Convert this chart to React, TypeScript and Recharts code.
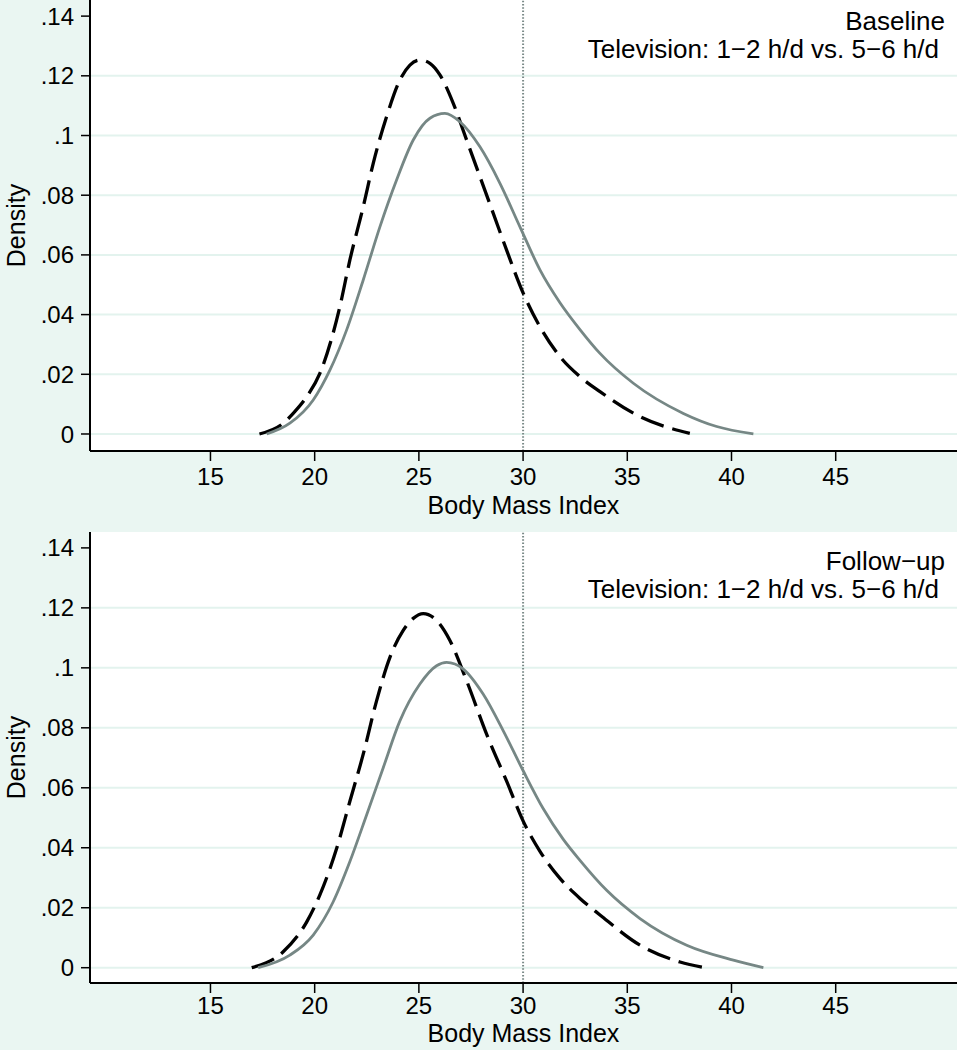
import { LineChart, Line, XAxis, YAxis, CartesianGrid, ReferenceLine } from "recharts";

const FONT = '"Liberation Sans", Arial, Helvetica, sans-serif';
const MINT = "#EAF6F2";
const GRID = "#E3F3EE";
const GREY = "#768785";

const bmiTicks = [15, 20, 25, 30, 35, 40, 45];
const densityTicks = [0, 0.02, 0.04, 0.06, 0.08, 0.1, 0.12, 0.14];
const gridValues = [0, 0.02, 0.04, 0.06, 0.08, 0.1, 0.12];
const obesityCutoff = 30;
const subtitle = "Television: 1\u22122 h/d vs. 5\u22126 h/d";

// baseline, 1-2 h/d (black dashed)
const baselineLowTv = [
  { bmi: 17.35, density: 0.0 },
  { bmi: 18.49, density: 0.0036 },
  { bmi: 18.97, density: 0.0069 },
  { bmi: 19.62, density: 0.0125 },
  { bmi: 20.25, density: 0.0203 },
  { bmi: 21.21, density: 0.0427 },
  { bmi: 21.69, density: 0.0583 },
  { bmi: 22.33, density: 0.0761 },
  { bmi: 22.81, density: 0.0907 },
  { bmi: 23.45, density: 0.1063 },
  { bmi: 24.09, density: 0.1186 },
  { bmi: 24.57, density: 0.1236 },
  { bmi: 25.05, density: 0.1253 },
  { bmi: 25.53, density: 0.1242 },
  { bmi: 26.01, density: 0.1203 },
  { bmi: 26.65, density: 0.1108 },
  { bmi: 27.29, density: 0.0985 },
  { bmi: 27.93, density: 0.0862 },
  { bmi: 28.57, density: 0.0739 },
  { bmi: 29.21, density: 0.0616 },
  { bmi: 30.01, density: 0.0471 },
  { bmi: 30.81, density: 0.0359 },
  { bmi: 31.77, density: 0.0259 },
  { bmi: 32.73, density: 0.0192 },
  { bmi: 33.69, density: 0.0142 },
  { bmi: 35.61, density: 0.0058 },
  { bmi: 38.0, density: 0.0002 },
];

// baseline, 5-6 h/d (grey solid)
const baselineHighTv = [
  { bmi: 17.7, density: 0.0 },
  { bmi: 18.81, density: 0.0036 },
  { bmi: 19.93, density: 0.0114 },
  { bmi: 20.73, density: 0.0214 },
  { bmi: 21.53, density: 0.0348 },
  { bmi: 22.33, density: 0.0516 },
  { bmi: 23.13, density: 0.0694 },
  { bmi: 23.93, density: 0.0851 },
  { bmi: 24.73, density: 0.0985 },
  { bmi: 25.53, density: 0.1058 },
  { bmi: 26.25, density: 0.1074 },
  { bmi: 26.97, density: 0.1046 },
  { bmi: 27.93, density: 0.0962 },
  { bmi: 28.89, density: 0.084 },
  { bmi: 29.85, density: 0.0694 },
  { bmi: 30.81, density: 0.055 },
  { bmi: 31.77, density: 0.044 },
  { bmi: 32.73, density: 0.035 },
  { bmi: 33.69, density: 0.027 },
  { bmi: 35.29, density: 0.017 },
  { bmi: 37.69, density: 0.0069 },
  { bmi: 39.29, density: 0.0025 },
  { bmi: 41.05, density: 0.0 },
];

// follow-up, 1-2 h/d (black dashed)
const followupLowTv = [
  { bmi: 16.98, density: 0.0 },
  { bmi: 18.49, density: 0.0053 },
  { bmi: 19.62, density: 0.0153 },
  { bmi: 20.25, density: 0.0243 },
  { bmi: 21.06, density: 0.0399 },
  { bmi: 21.69, density: 0.0555 },
  { bmi: 22.33, density: 0.0712 },
  { bmi: 22.97, density: 0.089 },
  { bmi: 23.61, density: 0.1035 },
  { bmi: 24.25, density: 0.1125 },
  { bmi: 24.73, density: 0.1165 },
  { bmi: 25.21, density: 0.1181 },
  { bmi: 25.85, density: 0.1158 },
  { bmi: 26.49, density: 0.1091 },
  { bmi: 27.29, density: 0.0957 },
  { bmi: 28.25, density: 0.0779 },
  { bmi: 29.21, density: 0.0622 },
  { bmi: 30.01, density: 0.0488 },
  { bmi: 30.81, density: 0.0388 },
  { bmi: 31.77, density: 0.0298 },
  { bmi: 32.73, density: 0.0231 },
  { bmi: 33.69, density: 0.0176 },
  { bmi: 35.61, density: 0.0075 },
  { bmi: 37.53, density: 0.0019 },
  { bmi: 38.73, density: 0.0 },
];

// follow-up, 5-6 h/d (grey solid)
const followupHighTv = [
  { bmi: 17.29, density: 0.0 },
  { bmi: 18.81, density: 0.0042 },
  { bmi: 19.93, density: 0.0109 },
  { bmi: 20.89, density: 0.022 },
  { bmi: 21.69, density: 0.0354 },
  { bmi: 22.5, density: 0.0511 },
  { bmi: 23.29, density: 0.0667 },
  { bmi: 24.09, density: 0.0823 },
  { bmi: 25.05, density: 0.0946 },
  { bmi: 25.85, density: 0.1007 },
  { bmi: 26.33, density: 0.1018 },
  { bmi: 27.13, density: 0.0996 },
  { bmi: 28.09, density: 0.0912 },
  { bmi: 29.05, density: 0.079 },
  { bmi: 30.01, density: 0.0656 },
  { bmi: 30.97, density: 0.053 },
  { bmi: 31.93, density: 0.0428 },
  { bmi: 32.73, density: 0.0358 },
  { bmi: 34.01, density: 0.0258 },
  { bmi: 35.61, density: 0.0164 },
  { bmi: 37.85, density: 0.0075 },
  { bmi: 40.09, density: 0.0025 },
  { bmi: 41.53, density: 0.0 },
];

const fmtDensity = (v: number) => (v === 0 ? "0" : String(v).replace(/^0/, ""));

const DensityTitle = ({ viewBox }: any) => {
  const cy = viewBox.y + viewBox.height / 2;
  return (
    <text x={25} y={cy} transform={`rotate(-90, 25, ${cy})`} textAnchor="middle"
      fontSize={25} fill="#000" fontFamily={FONT}>Density</text>
  );
};

const BmiTitle = ({ viewBox, drop }: any) => (
  <text x={viewBox.x + viewBox.width / 2} y={viewBox.y + drop} textAnchor="middle"
    fontSize={25} fill="#000" fontFamily={FONT}>Body Mass Index</text>
);

function Panel({ title, low, high, height, top, yDomain, xTitleDrop, xTickGap, titleY, subY }: any) {
  return (
    <div style={{ position: "relative", width: 957, height }}>
      <LineChart width={957} height={height} margin={{ top, right: 0, bottom: 0, left: 0 }}
        style={{ fontFamily: FONT }}>
        <CartesianGrid vertical={false} horizontalValues={gridValues} stroke={GRID}
          strokeWidth={2} fill="#fff" />
        <XAxis type="number" dataKey="bmi" domain={[9.22, 50.82]} ticks={bmiTicks}
          allowDataOverflow height={height - top - 451}
          tickSize={10} tickMargin={xTickGap} interval={0}
          axisLine={{ stroke: "#000", strokeWidth: 2 }} tickLine={{ stroke: "#000", strokeWidth: 1.5 }}
          tick={{ fill: "#000", fontSize: 24, fontFamily: FONT }}
          label={<BmiTitle drop={xTitleDrop} />} />
        <YAxis type="number" domain={yDomain} ticks={densityTicks} allowDataOverflow width={90}
          tickSize={9} tickMargin={7} interval={0} tickFormatter={fmtDensity}
          axisLine={{ stroke: "#000", strokeWidth: 2 }} tickLine={{ stroke: "#000", strokeWidth: 1.5 }}
          tick={{ fill: "#000", fontSize: 24, fontFamily: FONT }}
          label={<DensityTitle />} />
        <ReferenceLine x={obesityCutoff} stroke="#7A8A88" strokeWidth={2} strokeDasharray="1.5 1.8" />
        <Line data={low} dataKey="density" type="monotone" stroke="#000" strokeWidth={3.3}
          strokeDasharray="24 9" dot={false} activeDot={false} isAnimationActive={false} />
        <Line data={high} dataKey="density" type="monotone" stroke={GREY} strokeWidth={2.8}
          dot={false} activeDot={false} isAnimationActive={false} />
      </LineChart>
      <svg width={957} height={height} style={{ position: "absolute", left: 0, top: 0, pointerEvents: "none" }}>
        <text x={945} y={titleY} textAnchor="end" fontSize={26} fill="#000" fontFamily={FONT}>{title}</text>
        <text x={939} y={subY} textAnchor="end" fontSize={26} fill="#000" fontFamily={FONT}>{subtitle}</text>
      </svg>
    </div>
  );
}

export default function App() {
  return (
    <div style={{ position: "absolute", left: 0, top: 0, width: 957, height: 1050, background: MINT }}>
      <Panel title="Baseline" low={baselineLowTv} high={baselineHighTv} height={530} top={0}
        yDomain={[-0.0057, 0.1454]} xTitleDrop={63} xTickGap={7} titleY={30} subY={58} />
      <Panel title={"Follow\u2212up"} low={followupLowTv} high={followupHighTv} height={520} top={2}
        yDomain={[-0.0051, 0.1453]} xTitleDrop={59} xTickGap={4} titleY={40} subY={68} />
    </div>
  );
}
